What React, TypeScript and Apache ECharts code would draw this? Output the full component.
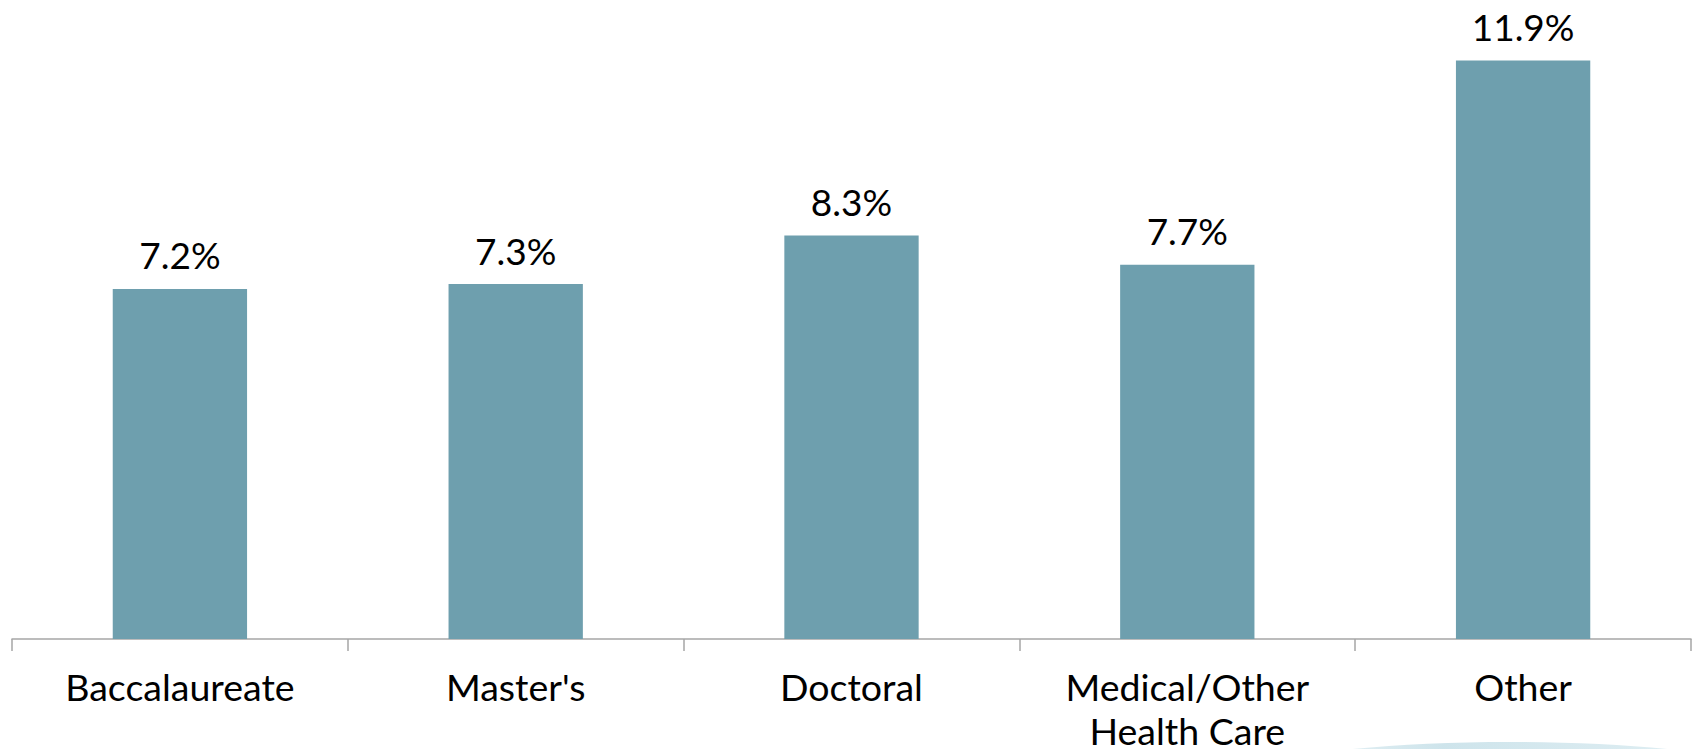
import React, { useEffect, useRef } from "react";
import * as echarts from "echarts";

const categories = ["Baccalaureate", "Master's", "Doctoral", "Medical/Other\nHealth Care", "Other"];
const values = [7.2, 7.3, 8.3, 7.7, 11.9];

export default function App() {
  const ref = useRef<HTMLDivElement>(null);
  useEffect(() => {
    document.body.style.margin = "0";
    const chart = echarts.init(ref.current!, null, { renderer: "svg" });
    chart.setOption({
      animation: false,
      backgroundColor: "#ffffff",
      grid: { left: 12, right: 7, top: 7, bottom: 110, containLabel: false, outerBoundsMode: "none" },
      xAxis: {
        type: "category",
        data: categories,
        axisLine: { show: true, lineStyle: { color: "#a6a6a6", width: 1.5 } },
        axisTick: { show: true, length: 12, lineStyle: { color: "#a6a6a6", width: 1.5 } },
        axisLabel: {
          color: "#000000",
          fontFamily: "Lato",
          fontSize: 37.5,
          lineHeight: 44,
          margin: 25,
          interval: 0,
        },
      },
      yAxis: {
        type: "value",
        min: 0,
        max: 13,
        show: false,
        splitLine: { show: false },
      },
      graphic: [
        {
          type: "ellipse",
          shape: { cx: 1510, cy: 800, rx: 330, ry: 58 },
          style: {
            fill: new echarts.graphic.LinearGradient(0, 0, 1, 0, [
              { offset: 0, color: "rgba(200,225,233,0)" },
              { offset: 0.4, color: "rgba(200,225,233,0.9)" },
              { offset: 1, color: "rgba(215,234,240,0.6)" },
            ]),
          },
          z: -1,
          silent: true,
        },
      ],
      series: [
        {
          type: "bar",
          data: values,
          barWidth: "40%",
          itemStyle: { color: "#6e9fae" },
          label: {
            show: true,
            position: "top",
            distance: 14,
            color: "#000000",
            fontFamily: "Lato",
            fontSize: 37,
            lineHeight: 40,
            formatter: (p: any) => p.value.toFixed(1) + "%",
          },
        },
      ],
    });
    return () => chart.dispose();
  }, []);
  return <div ref={ref} style={{ width: 1698, height: 749 }} />;
}
